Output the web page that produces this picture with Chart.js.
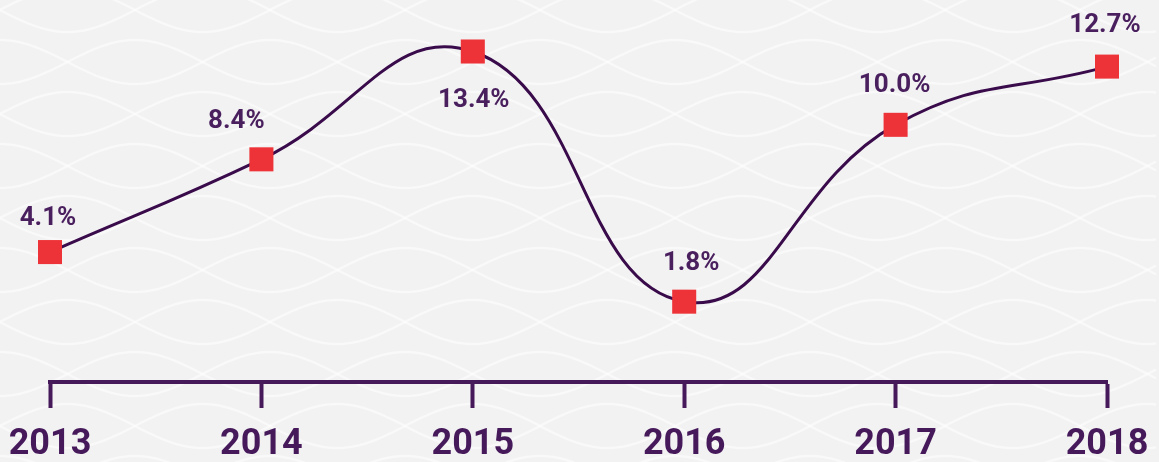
<!DOCTYPE html>
<html>
<head>
<meta charset="utf-8">
<script src="https://cdn.jsdelivr.net/npm/chart.js@4"></script>
<style>
  html, body { margin: 0; padding: 0; background: #f2f2f3; }
  #wrap { width: 1159px; height: 462px; position: relative; }
</style>
</head>
<body>
<div id="wrap"><canvas id="c" width="1159" height="462"></canvas></div>
<script>
// ---- data ----
const years = ['2013', '2014', '2015', '2016', '2017', '2018'];
const growth = [4.1, 8.4, 13.4, 1.8, 10.0, 12.7];
const growthLabels = ['4.1%', '8.4%', '13.4%', '1.8%', '10.0%', '12.7%'];

const PURPLE = '#46195a';
const LINE = '#3a0b4b';
const RED = '#ee3338';

// decorative wavy background
const bgPlugin = {
  id: 'bg',
  beforeDraw(chart) {
    const ctx = chart.ctx;
    const w = chart.width, h = chart.height;
    ctx.save();
    ctx.fillStyle = '#f2f2f3';
    ctx.fillRect(0, 0, w, h);
    ctx.strokeStyle = 'rgba(255,255,255,0.5)';
    ctx.lineWidth = 2.5;
    const P = 270, A = 22, gap = 52;
    for (let r = -1; r * gap < h + gap; r++) {
      const y0 = r * gap + 10;
      const ph = (r % 2) * Math.PI / 2;
      for (const s of [1, -1]) {
        ctx.beginPath();
        for (let x = 0; x <= w; x += 4) {
          const y = y0 + s * A * Math.sin(2 * Math.PI * x / P + ph);
          if (x === 0) ctx.moveTo(x, y); else ctx.lineTo(x, y);
        }
        ctx.stroke();
      }
    }
    ctx.restore();
  }
};

// value labels
const labelPlugin = {
  id: 'valueLabels',
  afterDatasetsDraw(chart, args, opts) {
    const ctx = chart.ctx;
    const meta = chart.getDatasetMeta(0);
    ctx.save();
    ctx.font = 'bold 26px Roboto';
    ctx.fillStyle = '#4a1f5e';
    ctx.textAlign = 'center';
    ctx.textBaseline = 'middle';
    meta.data.forEach((pt, i) => {
      const o = opts.offsets[i];
      ctx.fillText(growthLabels[i], pt.x + o[0], pt.y + o[1]);
    });
    ctx.restore();
  }
};

new Chart(document.getElementById('c'), {
  type: 'line',
  data: {
    labels: years,
    datasets: [{
      data: growth,
      borderColor: LINE,
      borderWidth: 3,
      tension: 0.45,
      fill: false,
      pointStyle: 'rect',
      pointRadius: 17,
      pointHoverRadius: 17,
      pointBackgroundColor: RED,
      pointBorderColor: RED,
      pointBorderWidth: 0,
      clip: false
    }]
  },
  options: {
    responsive: false,
    animation: false,
    events: [],
    layout: { padding: { left: 50, right: 52, top: 16, bottom: 0 } },
    plugins: {
      legend: { display: false },
      tooltip: { enabled: false },
      valueLabels: {
        offsets: [[-2, -34], [-25, -38], [1, 49], [7, -38], [-1, -39], [-2, -41]]
      }
    },
    scales: {
      x: {
        type: 'category',
        offset: false,
        afterFit(scale) {
          scale.height = 80;
          scale.paddingLeft = 0;
          scale.paddingRight = 0;
        },
        grid: {
          display: true,
          drawOnChartArea: false,
          drawTicks: true,
          tickLength: 26,
          tickWidth: 4,
          tickColor: PURPLE
        },
        border: { display: true, color: PURPLE, width: 4 },
        ticks: {
          color: PURPLE,
          font: { family: 'Roboto', weight: 'bold', size: 36, lineHeight: 1 },
          padding: 19,
          maxRotation: 0,
          autoSkip: false
        }
      },
      y: {
        display: false,
        min: -1.925,
        max: 15
      }
    }
  },
  plugins: [bgPlugin, labelPlugin]
});
</script>
</body>
</html>
